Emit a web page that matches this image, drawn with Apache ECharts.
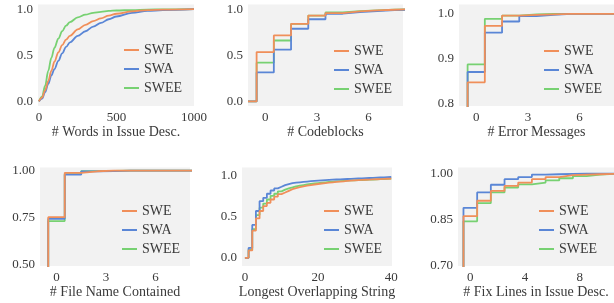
<!DOCTYPE html>
<html>
<head>
<meta charset="utf-8">
<script src="https://cdn.jsdelivr.net/npm/echarts@6/dist/echarts.min.js"></script>
<style>html,body{margin:0;padding:0;background:#fff;}#c{width:614px;height:303px;}</style>
</head>
<body>
<div id="c"></div>
<script>
// ---------- DATA ----------
const seriesNames = ['SWE', 'SWA', 'SWEE'];

// Panel 1: # Words in Issue Desc. (CDF, smooth)
const wordsX    = [0, 20, 40, 60, 80, 100, 125, 150, 175, 200, 250, 300, 350, 400, 450, 500, 600, 700, 800, 1000];
const wordsSWE  = [0, 0.04, 0.12, 0.22, 0.33, 0.43, 0.53, 0.61, 0.67, 0.71, 0.78, 0.83, 0.87, 0.90, 0.93, 0.95, 0.975, 0.99, 0.995, 1.0];
const wordsSWA  = [0, 0.03, 0.10, 0.19, 0.28, 0.35, 0.44, 0.52, 0.59, 0.64, 0.71, 0.76, 0.81, 0.85, 0.89, 0.92, 0.96, 0.98, 0.99, 1.0];
const wordsSWEE = [0, 0.05, 0.17, 0.33, 0.47, 0.58, 0.68, 0.76, 0.82, 0.86, 0.91, 0.94, 0.96, 0.97, 0.98, 0.985, 0.99, 0.995, 0.997, 1.0];

// Step panels: edges where each step starts (bins centred on integers)
const binEdges8  = [-1, -0.5, 0.5, 1.5, 2.5, 3.5, 4.5, 5.5, 6.5, 7.5, 8.5];
const binEdges10 = [-1, -0.5, 0.5, 1.5, 2.5, 3.5, 4.5, 5.5, 6.5, 7.5, 8.5, 9.5, 10.5, 11.5];

// Panel 2: # Codeblocks
const codeSWE  = [0, 0.534, 0.715, 0.841, 0.930, 0.957, 0.975, 0.986, 0.993, 1.0, 1.0];
const codeSWA  = [0, 0.314, 0.560, 0.787, 0.890, 0.950, 0.967, 0.978, 0.990, 0.995, 1.0];
const codeSWEE = [0, 0.420, 0.660, 0.840, 0.930, 0.964, 0.978, 0.986, 0.993, 0.998, 1.0];

// Panel 3: # Error Messages
const errSWE  = [0, 0.847, 0.973, 0.996, 0.998, 0.999, 1.0, 1.0, 1.0, 1.0, 1.0];
const errSWA  = [0, 0.870, 0.958, 0.983, 0.995, 0.998, 1.0, 1.0, 1.0, 1.0, 1.0];
const errSWEE = [0, 0.887, 0.989, 0.996, 0.999, 1.0, 1.0, 1.0, 1.0, 1.0, 1.0];

// Panel 4: # File Name Contained
const fileSWE  = [0, 0.7535, 0.989, 0.997, 1.0, 1.0, 1.0, 1.0, 1.0, 1.0, 1.0];
const fileSWA  = [0, 0.745, 0.979, 0.996, 0.998, 1.0, 1.0, 1.0, 1.0, 1.0, 1.0];
const fileSWEE = [0, 0.733, 0.982, 0.998, 0.999, 1.0, 1.0, 1.0, 1.0, 1.0, 1.0];

// Panel 5: Longest Overlapping String (steps at integers 0..40)
const lcsX    = [0,1,2,3,4,5,6,7,8,9,10,11,12,13,14,15,16,17,18,19,20,21,22,23,24,25,26,27,28,29,30,31,32,33,34,35,36,37,38,39,40];
const lcsSWE  = [0,0.09,0.33,0.48,0.57,0.63,0.67,0.71,0.745,0.775,0.795,0.816,0.837,0.85,0.86,0.87,0.878,0.886,0.893,0.899,0.905,0.91,0.915,0.92,0.924,0.928,0.932,0.936,0.939,0.942,0.945,0.948,0.951,0.953,0.955,0.957,0.959,0.961,0.963,0.964,0.965];
const lcsSWA  = [0,0.12,0.40,0.57,0.69,0.73,0.78,0.82,0.845,0.865,0.886,0.898,0.91,0.915,0.92,0.925,0.929,0.933,0.937,0.941,0.944,0.947,0.95,0.952,0.954,0.956,0.958,0.96,0.962,0.964,0.966,0.968,0.97,0.972,0.974,0.976,0.978,0.98,0.982,0.984,0.986];
const lcsSWEE = [0,0.10,0.35,0.52,0.61,0.66,0.71,0.755,0.78,0.81,0.83,0.845,0.857,0.87,0.878,0.886,0.893,0.899,0.905,0.91,0.915,0.92,0.924,0.928,0.931,0.934,0.937,0.94,0.942,0.944,0.946,0.948,0.95,0.952,0.954,0.956,0.958,0.96,0.962,0.964,0.965];

// Panel 6: # Fix Lines in Issue Desc.
const fixSWE  = [0, 0.862, 0.912, 0.944, 0.960, 0.971, 0.982, 0.989, 0.995, 0.997, 0.998, 0.999, 1.0, 1.0];
const fixSWA  = [0, 0.889, 0.939, 0.964, 0.982, 0.989, 0.997, 0.998, 0.999, 1.0, 1.0, 1.0, 1.0, 1.0];
const fixSWEE = [0, 0.845, 0.904, 0.939, 0.955, 0.965, 0.971, 0.978, 0.985, 0.992, 0.997, 0.999, 1.0, 1.0];

// Axis titles & tick labels
const xTitles = ['# Words in Issue Desc.', '# Codeblocks', '# Error Messages', '# File Name Contained', 'Longest Overlapping String', '# Fix Lines in Issue Desc.'];
const xTicks = [[0, 500, 1000], [0, 3, 6], [0, 3, 6], [0, 3, 6], [0, 20, 40], [0, 4, 8]];
const yTicks = [[0, 0.5, 1.0], [0, 0.5, 1.0], [0.8, 0.9, 1.0], [0.5, 0.75, 1.0], [0, 0.5, 1.0], [0.7, 0.85, 1.0]];
const yDecimals = [1, 1, 1, 2, 1, 2];

// ---------- LAYOUT ----------
const colors = {SWE: '#f08f5a', SWA: '#5a86d6', SWEE: '#77d172'};
const FONT = "'Liberation Serif', 'Times New Roman', serif";
const grids = [
  {left: 38,  top: 4.5,   width: 156, height: 101.5},
  {left: 248, top: 4.5,   width: 155, height: 101.5},
  {left: 459, top: 4.5,   width: 155, height: 101.5},
  {left: 40,  top: 167.5, width: 150, height: 98.5},
  {left: 242, top: 167.5, width: 150, height: 98.5},
  {left: 458, top: 167.5, width: 156, height: 98.5}
];
const xRanges = [[-6, 1000], [-1, 8], [-1, 8], [-1, 8.1], [-0.8, 40.2], [-0.9, 10.5]];
const yRanges = [[-0.05, 1.05], [-0.05, 1.05], [0.794, 1.021], [0.4947, 1.017], [-0.1, 1.1], [0.70, 1.02]];
const legendPos = [[124, 43], [334, 44], [544, 44], [122, 204], [324, 204], [539, 204]];

const panelData = [
  {x: wordsX, ys: [wordsSWE, wordsSWA, wordsSWEE], step: false},
  {x: binEdges8, ys: [codeSWE, codeSWA, codeSWEE], step: true},
  {x: binEdges8, ys: [errSWE, errSWA, errSWEE], step: true},
  {x: binEdges8, ys: [fileSWE, fileSWA, fileSWEE], step: true},
  {x: lcsX, ys: [lcsSWE, lcsSWA, lcsSWEE], step: true},
  {x: binEdges10, ys: [fixSWE, fixSWA, fixSWEE], step: true}
];

const textColor = '#3a3a3a';
const option = {
  animation: false,
  grid: grids.map(g => Object.assign({show: true, backgroundColor: '#f2f2f2', borderWidth: 0}, g)),
  xAxis: grids.map((g, i) => ({
    type: 'value', gridIndex: i, min: xRanges[i][0], max: xRanges[i][1],
    axisLine: {show: false}, axisTick: {show: false, customValues: xTicks[i]}, splitLine: {show: false},
    axisLabel: {customValues: xTicks[i], color: textColor, fontFamily: FONT, fontSize: 13, margin: 5,
      formatter: v => String(v)},
    name: xTitles[i], nameLocation: 'middle', nameGap: 19,
    nameTextStyle: {color: textColor, fontFamily: FONT, fontSize: 14}
  })),
  yAxis: grids.map((g, i) => ({
    type: 'value', gridIndex: i, min: yRanges[i][0], max: yRanges[i][1],
    axisLine: {show: false}, axisTick: {show: false, customValues: yTicks[i]}, splitLine: {show: false},
    axisLabel: {customValues: yTicks[i], color: textColor, fontFamily: FONT, fontSize: 13, margin: 5,
      formatter: v => v.toFixed(yDecimals[i])}
  })),
  legend: legendPos.map(p => ({
    data: seriesNames, orient: 'vertical', left: p[0], top: p[1], padding: 0,
    icon: 'rect', itemWidth: 15, itemHeight: 2, itemGap: 5,
    textStyle: {color: textColor, fontFamily: FONT, fontSize: 14, lineHeight: 14},
    selectedMode: false
  })),
  series: []
};

panelData.forEach((p, i) => {
  seriesNames.forEach((name, k) => {
    option.series.push({
      type: 'line', name: name, xAxisIndex: i, yAxisIndex: i,
      data: p.x.map((xv, j) => [xv, p.ys[k][j]]),
      step: p.step ? 'end' : false,
      smooth: p.step ? false : 0.35, smoothMonotone: 'x',
      showSymbol: false, symbol: 'none', clip: true,
      lineStyle: {color: colors[name], width: 1.8},
      itemStyle: {color: colors[name]},
      z: 3 - k
    });
  });
});

const chart = echarts.init(document.getElementById('c'), null, {renderer: 'canvas'});
chart.setOption(option);
</script>
</body>
</html>
